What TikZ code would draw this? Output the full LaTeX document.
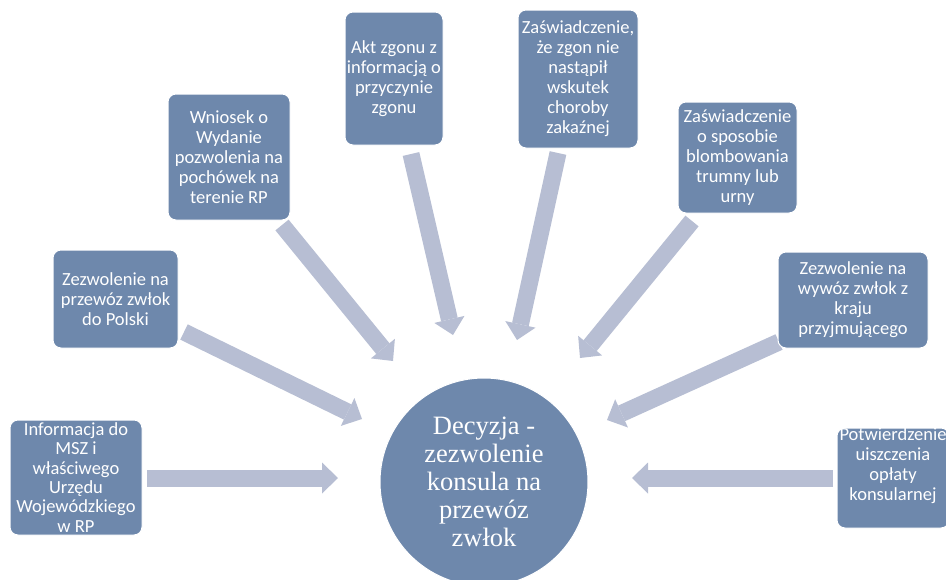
\documentclass[tikz,border=0pt]{standalone}
\usepackage{fontspec}
\setmainfont{Carlito}
\newfontfamily\serifdec{Liberation Serif}
\usetikzlibrary{arrows.meta}
\definecolor{boxc}{RGB}{110,136,172}
\definecolor{arrowc}{RGB}{183,190,211}
\begin{document}
\begin{tikzpicture}[x=1pt,y=-1pt,
  box/.style={rectangle, rounded corners=8pt, fill=boxc, draw=white, line width=1pt,
    text=white, align=center, inner sep=0pt, font=\fontsize{18.5}{20}\selectfont},
  boxtext/.style={text=white, align=center, inner sep=0pt, font=\fontsize{18.5}{20}\selectfont},
  blockarrow/.style={draw=arrowc, line width=17pt,
    -{Triangle[length=16pt,width=31pt,line width=0pt]}},
  hub/.style={circle, fill=boxc, draw=white, line width=1pt, text=white, align=center,
    minimum size=208pt, inner sep=0pt, font=\serifdec\fontsize{26.5}{28}\selectfont}]
\clip (0,0) rectangle (946,579);
% arrow end points
\coordinate (t1) at (147,478);   \coordinate (h1) at (338,478);
\coordinate (t2) at (184,332);   \coordinate (h2) at (362,419);
\coordinate (t3) at (282,225);   \coordinate (h3) at (393,361);
\coordinate (t4) at (411,154);   \coordinate (h4) at (453,335);
\coordinate (t5) at (558,153);   \coordinate (h5) at (517,340);
\coordinate (t6) at (692,221);   \coordinate (h6) at (580,358);
\coordinate (t7) at (779,342);   \coordinate (h7) at (607,420);
\coordinate (t8) at (833,478);   \coordinate (h8) at (632,478);
\foreach \i in {1,...,8} { \draw[blockarrow] (t\i) -- (h\i); }
% hub
\node[hub] (hub) at (484,482) {Decyzja -\\zezwolenie\\konsula na\\przewóz\\zwłok};
% boxes
\node[box, minimum width=132pt, minimum height=115pt,
  font=\fontsize{18.5}{19.3}\selectfont] (b1) at (76,477.5)
  {Informacja do\\MSZ i\\właściwego\\Urzędu\\Wojewódzkiego\\w RP};
\node[box, minimum width=125pt, minimum height=98pt] (b2) at (115.5,299)
  {Zezwolenie na\\przewóz zwłok\\do Polski};
\node[box, minimum width=122pt, minimum height=126pt] (b3) at (229,157)
  {Wniosek o\\Wydanie\\pozwolenia na\\pochówek na\\terenie RP};
\node[box, minimum width=98pt, minimum height=133pt] (b4) at (394,78.5)
  {Akt zgonu z\\informacją o\\przyczynie\\zgonu};
\node[box, minimum width=120pt, minimum height=138pt] (b5) at (578,79)
  {Zaświadczenie,\\że zgon nie\\nastąpił\\wskutek\\choroby\\zakaźnej};
\node[box, minimum width=119pt, minimum height=111pt] (b6) at (737.5,157.5)
  {Zaświadczenie\\o sposobie\\blombowania\\trumny lub\\urny};
\node[box, minimum width=150pt, minimum height=96pt] (b7) at (853,300)
  {Zezwolenie na\\wywóz zwłok z\\kraju\\przyjmującego};
\node[box, minimum width=112pt, minimum height=100pt] (b8) at (893,478) {};
\node[boxtext] (b8t) at (893,466) {Potwierdzenie\\uiszczenia\\opłaty\\konsularnej};
\end{tikzpicture}
\end{document}
